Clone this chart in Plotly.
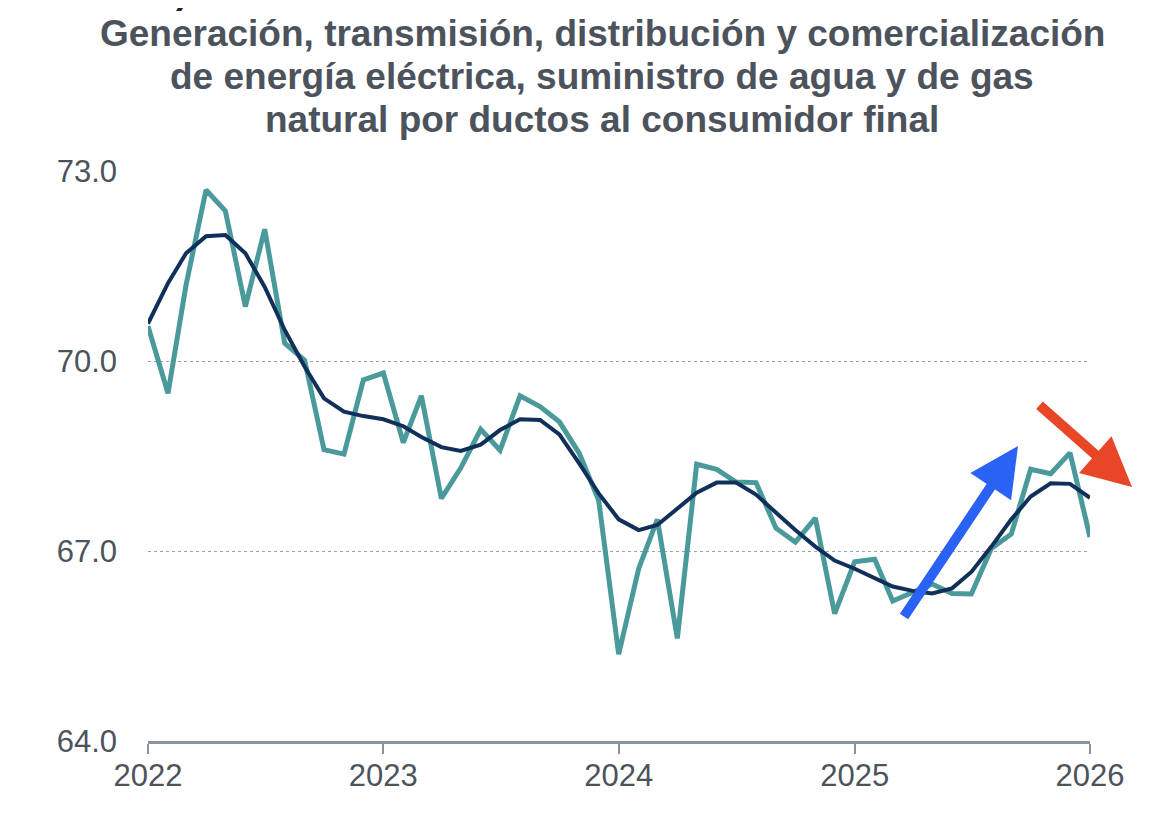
import pandas as pd
import plotly.graph_objects as go

# monthly values, Jan 2022 - Jan 2026
months = pd.date_range("2022-01-01", periods=49, freq="MS")

serie_mensual = [
    70.55, 69.49, 71.20, 72.70, 72.37, 70.86, 72.08, 70.28, 70.01, 68.60, 68.53, 69.70,
    69.81, 68.71, 69.45, 67.83, 68.31, 68.92, 68.59, 69.45, 69.28, 69.04, 68.54, 67.80,
    65.37, 66.72, 67.50, 65.62, 68.37, 68.29, 68.09, 68.08, 67.36, 67.14, 67.52, 66.01,
    66.83, 66.87, 66.21, 66.35, 66.48, 66.33, 66.32, 67.04, 67.27, 68.29, 68.22, 68.55,
    67.22,
]

tendencia = [
    70.59, 71.23, 71.70, 71.97, 71.99, 71.70, 71.17, 70.49, 69.91, 69.41, 69.20, 69.13,
    69.08, 68.97, 68.80, 68.64, 68.58, 68.68, 68.91, 69.08, 69.07, 68.84, 68.38, 67.91,
    67.50, 67.33, 67.41, 67.66, 67.92, 68.08, 68.08, 67.89, 67.60, 67.33, 67.07, 66.85,
    66.72, 66.57, 66.44, 66.37, 66.33, 66.41, 66.67, 67.07, 67.50, 67.86, 68.07, 68.06,
    67.84,
]

y_ticks = [64.0, 67.0, 70.0, 73.0]
x_ticks = ["2022-01-01", "2023-01-01", "2024-01-01", "2025-01-01", "2026-01-01"]
x_labels = ["2022", "2023", "2024", "2025", "2026"]

title_lines = [
    "Generación, transmisión, distribución y comercialización",
    "de energía eléctrica, suministro de agua y de gas",
    "natural por ductos al consumidor final",
]

TEAL = "#4a999b"
NAVY = "#10305a"
GREY_TXT = "#4d535d"
AXIS = "#8a949c"
FONT = "Liberation Sans, Arial, sans-serif"

# the page puts the figure 8px in from the top-left corner
PAD = 8
X0, X1, Y0, Y1 = 148, 1090, 171, 741   # plot area in window pixels

fig = go.Figure()
fig.add_trace(go.Scatter(x=months, y=serie_mensual, mode="lines",
                         line=dict(color=TEAL, width=5), showlegend=False))
fig.add_trace(go.Scatter(x=months, y=tendencia, mode="lines",
                         line=dict(color=NAVY, width=4), showlegend=False))

fig.update_layout(
    width=1162 - PAD, height=826 - PAD,
    margin=dict(l=X0 - PAD, r=1162 - X1, t=Y0 - PAD, b=826 - Y1),
    paper_bgcolor="white", plot_bgcolor="white",
    font=dict(family=FONT, color=GREY_TXT),
    xaxis=dict(
        type="date", range=[x_ticks[0], x_ticks[-1]],
        tickvals=x_ticks, ticktext=x_labels,
        showline=True, linecolor=AXIS, linewidth=3,
        ticks="outside", ticklen=10, tickwidth=2, tickcolor=AXIS,
        showgrid=False, zeroline=False,
        tickfont=dict(size=31, color=GREY_TXT),
        ticklabelstandoff=-5,
    ),
    # second axis only to get the part of the ticks above the line
    xaxis2=dict(
        type="date", range=[x_ticks[0], x_ticks[-1]],
        overlaying="x", anchor="y", side="bottom",
        tickvals=x_ticks, showticklabels=False,
        ticks="inside", ticklen=10, tickwidth=2, tickcolor=AXIS,
        showline=False, showgrid=False, zeroline=False,
    ),
    yaxis=dict(
        range=[64, 73], tickvals=y_ticks, tickformat=".1f",
        showgrid=True, gridcolor="#98a2ae", gridwidth=1, griddash="dot",
        zeroline=False, showline=False, ticks="",
        tickfont=dict(size=31, color=GREY_TXT),
        ticklabelstandoff=30,
    ),
)


def px_x(p):
    return (p - X0) / (X1 - X0)


def px_y(p):
    return (Y1 - p) / (Y1 - Y0)


# title, one annotation per line
title_y = [33.5, 77, 120]
for txt, py in zip(title_lines, title_y):
    fig.add_annotation(
        text="<b>%s</b>" % txt, xref="paper", yref="paper",
        x=px_x(602), y=px_y(py),
        xanchor="center", yanchor="middle", showarrow=False,
        font=dict(size=37, color=GREY_TXT, family=FONT),
    )

# clipped leftover glyph at the very top
fig.add_annotation(text="<b>)</b>", xref="paper", yref="paper",
                   x=px_x(182), y=px_y(-9),
                   xanchor="center", yanchor="middle", showarrow=False,
                   font=dict(size=37, color="#222222", family=FONT))

# arrows
fig.add_annotation(text="", xref="paper", yref="paper",
                   x=px_x(1018), y=px_y(446),
                   ax=-115, ay=172, showarrow=True,
                   arrowhead=2, arrowwidth=10, arrowsize=0.98, arrowcolor="#2a62f5")
fig.add_annotation(text="", xref="paper", yref="paper",
                   x=px_x(1132), y=px_y(487),
                   ax=-94, ay=-83, showarrow=True,
                   arrowhead=2, arrowwidth=10, arrowsize=0.98, arrowcolor="#e94527")

fig.write_html("out.html")
